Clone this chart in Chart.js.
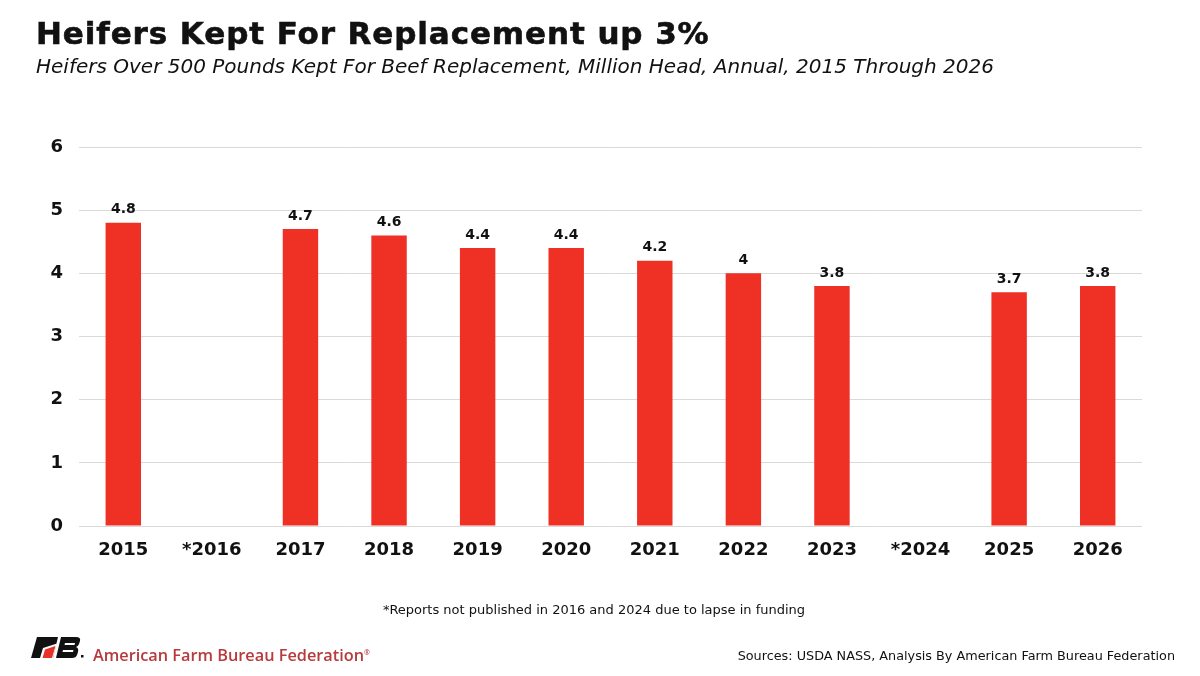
<!DOCTYPE html>
<html>
<head>
<meta charset="utf-8">
<script src="https://cdn.jsdelivr.net/npm/chart.js@4/dist/chart.umd.min.js"></script>
<style>
  html, body { margin: 0; padding: 0; background: #fff; }
  #wrap { position: relative; width: 1200px; height: 676px; overflow: hidden; font-family: "DejaVu Sans", Verdana, sans-serif; color: #111; }
  #chart { position: absolute; left: 0; top: 0; }
  .title { position: absolute; left: 36px; top: 15px; font-size: 31px; font-weight: bold; letter-spacing: 0.9px; -webkit-text-stroke: 0.6px #111; white-space: nowrap; }
  .subtitle { position: absolute; left: 36px; top: 54px; font-size: 20px; font-style: italic; white-space: nowrap; }
  .note { position: absolute; left: 0; width: 1188px; top: 602px; font-size: 13px; text-align: center; }
  .sources { position: absolute; right: 25px; top: 648px; font-size: 12.8px; white-space: nowrap; }
  .logo { position: absolute; left: 30px; top: 636px; }
  .org { position: absolute; left: 93px; top: 644px; font-size: 16.3px; font-weight: 600; color: #b73a3c; white-space: nowrap; font-family: "Open Sans", "DejaVu Sans", sans-serif; }
</style>
</head>
<body>
<div id="wrap">
  <canvas id="chart" width="1200" height="676"></canvas>
  <div class="title">Heifers Kept For Replacement up 3%</div>
  <div class="subtitle">Heifers Over 500 Pounds Kept For Beef Replacement, Million Head, Annual, 2015 Through 2026</div>
  <div class="note">*Reports not published in 2016 and 2024 due to lapse in funding</div>
  <svg class="logo" width="56" height="24" viewBox="0 0 56 24">
    <polygon points="7,1 28,1 23,22 1,22" fill="#111"/>
    <polygon points="10,22 13,12 27,7.5 23,22" fill="#fff"/>
    <polygon points="12.5,22 15,13.5 25.5,10 22,22" fill="#e8312a"/>
    <path d="M31,1 L46,1 Q51,1 50,5 L49,8 Q48,10.5 46,11 Q49,12 48,16 L47,19 Q46,22 42,22 L26,22 Z" fill="#111"/>
    <polygon points="35,7 45,7 44.5,9 34.5,9" fill="#fff"/>
    <polygon points="33,14 43.5,14 43,16 32.5,16" fill="#fff"/>
    <rect x="51" y="19" width="2.5" height="2.5" fill="#111"/>
  </svg>
  <div class="org">American Farm Bureau Federation<sup style="font-size:7px">&reg;</sup></div>
  <div class="sources">Sources: USDA NASS, Analysis By American Farm Bureau Federation</div>
</div>
<script>
const YEARS = ['2015', '*2016', '2017', '2018', '2019', '2020', '2021', '2022', '2023', '*2024', '2025', '2026'];
const HEIFERS = [4.8, null, 4.7, 4.6, 4.4, 4.4, 4.2, 4.0, 3.8, null, 3.7, 3.8];
const Y_TICKS = [0, 1, 2, 3, 4, 5, 6];

const BAR_RED = '#ee3124';
const FONT = '"DejaVu Sans", Verdana, sans-serif';

// value labels above each bar
const barLabels = {
  id: 'barLabels',
  afterDatasetsDraw(chart) {
    const ctx = chart.ctx;
    const meta = chart.getDatasetMeta(0);
    ctx.save();
    ctx.font = 'bold 14px ' + FONT;
    ctx.fillStyle = '#111';
    ctx.textAlign = 'center';
    ctx.textBaseline = 'bottom';
    meta.data.forEach((bar, i) => {
      const v = HEIFERS[i];
      if (v === null) return;
      ctx.fillText(String(v), bar.x, bar.y - 6);
    });
    ctx.restore();
  }
};

new Chart(document.getElementById('chart'), {
  type: 'bar',
  data: {
    labels: YEARS,
    datasets: [{
      data: HEIFERS,
      backgroundColor: BAR_RED,
      categoryPercentage: 1,
      barPercentage: 0.4
    }]
  },
  options: {
    responsive: false,
    animation: false,
    layout: { padding: { left: 29, right: 58, top: 147, bottom: 110 } },
    plugins: { legend: { display: false }, tooltip: { enabled: false } },
    scales: {
      x: {
        grid: { display: false },
        border: { display: false },
        ticks: { color: '#111', font: { family: FONT, size: 18, weight: 'bold' }, padding: 6, maxRotation: 0 },
        afterFit(scale) { scale.height = 40; }
      },
      y: {
        min: 0,
        max: 6,
        afterBuildTicks(scale) { scale.ticks = Y_TICKS.map(v => ({ value: v })); },
        grid: { color: '#d9d9d9', drawTicks: false },
        border: { display: false },
        ticks: { color: '#111', font: { family: FONT, size: 18, weight: 'bold' }, padding: 16 },
        afterFit(scale) { scale.width = 50; }
      }
    }
  },
  plugins: [barLabels]
});
</script>
</body>
</html>
